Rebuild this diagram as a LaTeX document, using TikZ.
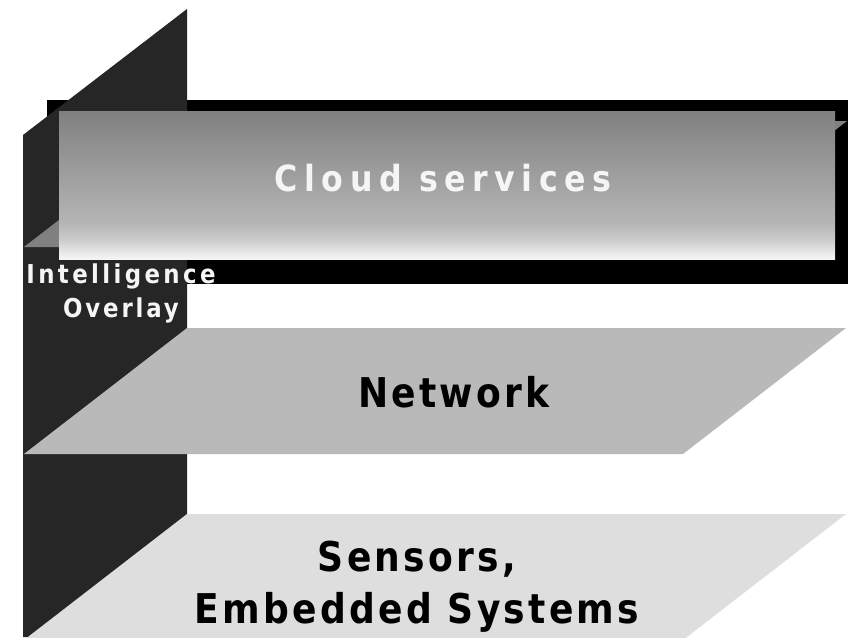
\documentclass[tikz,border=0pt]{standalone}
\usepackage{fontspec}
\usepackage{tikz}
\newfontfamily\layerfont{DejaVu Sans}[FakeStretch=0.88]
\definecolor{SlabGray}{HTML}{262626}
\definecolor{CloudGray}{HTML}{808080}
\definecolor{NetGray}{HTML}{B9B9B9}
\definecolor{SensGray}{HTML}{DEDEDE}
\pgfdeclareverticalshading{CloudFade}{100bp}{color(0bp)=(white!96!black); color(25bp)=(white!96!black); color(26.5bp)=(white!93!black); color(31.5bp)=(white!80!black); color(37bp)=(white!71!black); color(75bp)=(CloudGray); color(100bp)=(CloudGray)}

\begin{document}
\begin{tikzpicture}[x=1pt,y=-1pt]
		\tikzset{LayerText/.style={inner sep=0pt,anchor=base,font=\layerfont\bfseries}}
		\clip (0,0) rectangle (848,637);
		%\draw[red] (0,0) rectangle (848,637);
		% shadow under the cloud layer
		\fill[black] (47,100) rectangle (848,284);
		% intelligence overlay slab
		\fill[SlabGray] (23,135) -- (187,9) -- (187,637) -- (23,637) -- cycle;
		% layers
		\fill[CloudGray] (24,247) -- (187,121) -- (847,121) -- (684,247) -- cycle;
		\shade[shading=CloudFade] (59,111) rectangle (835,259);
		\fill[NetGray] (24,454) -- (187,328) -- (846,328) -- (683,454) -- cycle;
		\fill[SensGray] (24,640) -- (187,514) -- (846,514) -- (683,640) -- cycle;
		{
			\tikzset{LayerText/.append style={text=white!96!black}}
			\node[LayerText,font=\layerfont\bfseries\fontsize{36}{42}\selectfont\addfontfeatures{LetterSpace=18}] (cloud) at (443,191) {Cloud services};
			\node[LayerText,font=\layerfont\bfseries\fontsize{26}{32}\selectfont\addfontfeatures{LetterSpace=13}] (intel) at (121,283) {Intelligence};
			\node[LayerText,font=\layerfont\bfseries\fontsize{26}{32}\selectfont\addfontfeatures{LetterSpace=11}] (overlay) at (121,317) {Overlay};
		}
		\tikzset{LayerText/.append style={text=black,font=\layerfont\bfseries\fontsize{41}{50}\selectfont\addfontfeatures{LetterSpace=8}}}
		\node[LayerText] (net) at (454,407) {Network};
		\node[LayerText] (sens) at (417,571) {Sensors,};
		\node[LayerText] (emb) at (417,623) {Embedded Systems};
	\end{tikzpicture}
\end{document}
